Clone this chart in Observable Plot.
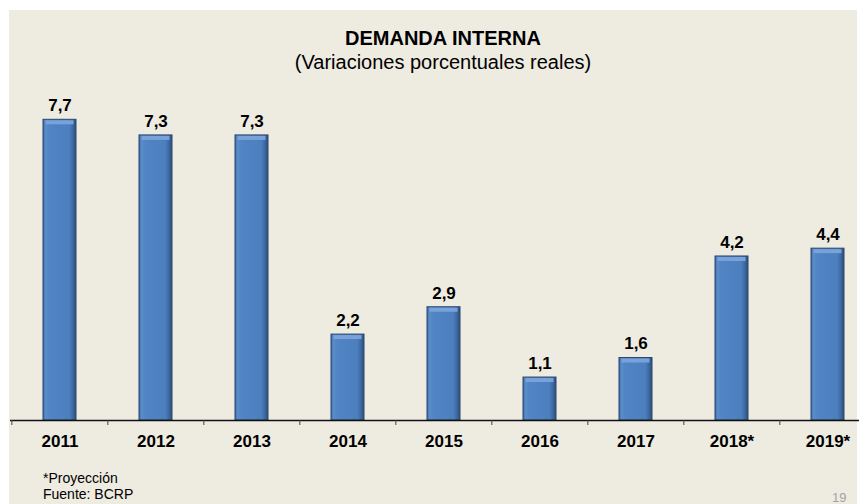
<!DOCTYPE html>
<html><head><meta charset="utf-8">
<script src="https://cdn.jsdelivr.net/npm/d3@7"></script>
<script src="https://cdn.jsdelivr.net/npm/@observablehq/plot@0.6"></script>
<style>
body{margin:0;background:#fff;font-family:"Liberation Sans",Arial,sans-serif;}
#wrap{position:relative;width:859px;height:504px;overflow:hidden;}
#bg{position:absolute;left:9px;top:10px;width:848px;height:494px;background:#eeebe1;}
#chart{position:absolute;left:0;top:0;}
.t{position:absolute;left:0;width:886px;text-align:center;color:#000;white-space:nowrap;}
#title{top:28px;font-size:20px;line-height:20px;font-weight:bold;}
#sub{top:52px;font-size:20px;line-height:20px;}
#foot{position:absolute;left:43px;top:470px;font-size:14px;line-height:16px;color:#000;}
#page{position:absolute;left:832px;top:490px;font-size:13px;line-height:15px;color:#a3a3a3;}
</style></head>
<body>
<div id="wrap">
  <div id="bg"></div>
  <div id="chart"></div>
  <div class="t" id="title">DEMANDA INTERNA</div>
  <div class="t" id="sub">(Variaciones porcentuales reales)</div>
  <div id="foot">*Proyección<br>Fuente: BCRP</div>
  <div id="page">19</div>
</div>
<script>
const years = ["2011","2012","2013","2014","2015","2016","2017","2018*","2019*"];
const values = [7.7, 7.3, 7.3, 2.2, 2.9, 1.1, 1.6, 4.2, 4.4];
const labels = ["7,7","7,3","7,3","2,2","2,9","1,1","1,6","4,2","4,4"];
const data = years.map((y, i) => ({year: y, value: values[i], label: labels[i]}));

const step = (876.8 - 10.1) / 9;
const svg = Plot.plot({
  width: 859, height: 460,
  marginLeft: 10, marginRight: 0, marginTop: 0, marginBottom: 40,
  style: {background: "transparent", fontFamily: "'Liberation Sans', Arial, sans-serif", overflow: "visible"},
  x: {domain: years, range: [10.1, 876.8], paddingInner: 0.658, paddingOuter: 0.329, align: 0.5, label: null},
  y: {domain: [0, 7.7], range: [420, 119.3], axis: null},
  marks: [
    Plot.barY(data, {x: "year", y: "value", fill: "url(#barGrad)", stroke: "#2a466d", strokeWidth: 1}),
    Plot.tickY(data, {x: "year", y: "value", dy: 2.5, stroke: "#78a2d9", strokeWidth: 4, insetLeft: 2.5, insetRight: 2.5}),
    Plot.ruleY([0], {stroke: "#111", strokeWidth: 1.3}),
    Plot.axisX({tickSize: 5, dx: -step / 2, fill: "none", stroke: "#444", label: null}),
    Plot.axisX({tickSize: 0, tickPadding: 14, fontSize: 17, fontWeight: "bold", fill: "#000", label: null}),
    Plot.text(data, {x: "year", y: "value", text: "label", dy: -14, fontSize: 17, fontWeight: "bold", fill: "#000"})
  ]
});
d3.select(svg).insert("defs", ":first-child").html(`
  <linearGradient id="barGrad" x1="0" x2="1" y1="0" y2="0">
    <stop offset="0" stop-color="#3d6aa3"/>
    <stop offset="0.07" stop-color="#5b8bcb"/>
    <stop offset="0.2" stop-color="#5184c4"/>
    <stop offset="0.8" stop-color="#4c7fbe"/>
    <stop offset="0.9" stop-color="#3e6aa2"/>
    <stop offset="1" stop-color="#2c4f7e"/>
  </linearGradient>`);
document.getElementById("chart").appendChild(svg);
</script>
</body></html>
